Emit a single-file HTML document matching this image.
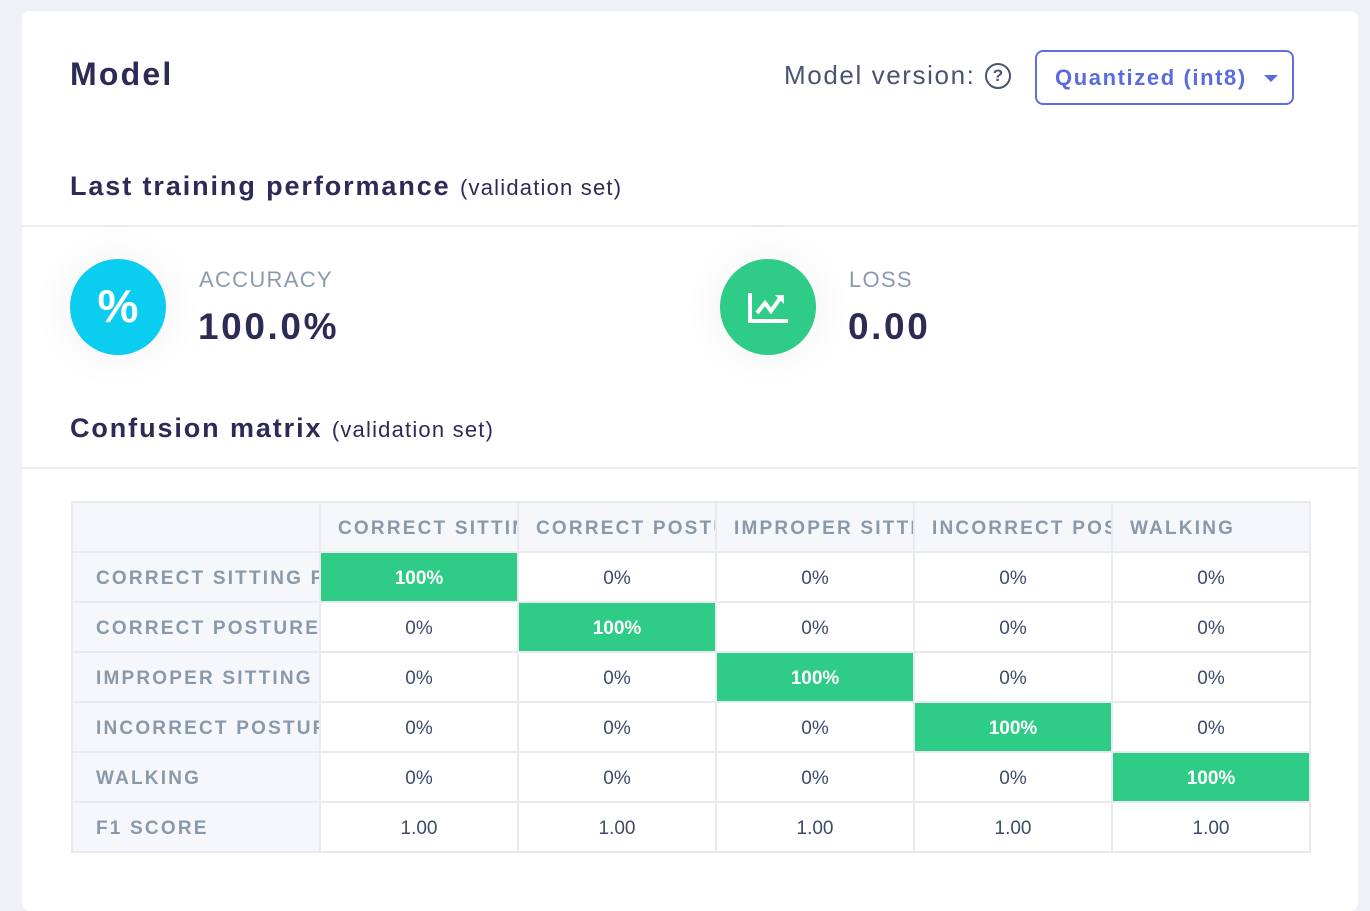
<!DOCTYPE html>
<html><head><style>
*{margin:0;padding:0;box-sizing:border-box}
body{width:1370px;height:884px;background:#f0f1f6;font-family:"Liberation Sans",sans-serif;position:relative;overflow:hidden}
.card{position:absolute;left:22px;top:11px;width:1336px;height:900px;background:#fff;border-radius:8px}
.abs{position:absolute}
h1{position:absolute;left:48px;top:45px;font-size:32px;font-weight:bold;color:#2c2b55;letter-spacing:2.2px}
.h2{position:absolute;left:48px;font-size:27px;font-weight:bold;color:#2c2b55;letter-spacing:1.9px}
.h2 span{font-size:22px;font-weight:normal;letter-spacing:1.2px}
.line{position:absolute;left:0;width:1336px;height:2px;background:#ebecf0}
.circle{position:absolute;width:96px;height:96px;border-radius:50%;box-shadow:0 0 30px 14px rgba(0,0,0,0.03)}
.lbl{position:absolute;font-size:22px;color:#8a9bb0;letter-spacing:1.3px}
.val{position:absolute;font-size:37px;font-weight:bold;color:#2c2b55;letter-spacing:2.6px}
table{position:absolute;left:49px;top:490px;border-collapse:collapse;table-layout:fixed}
td{border:2px solid #e8eaef;height:50px;text-align:center;font-size:19px;color:#3d4a6a;white-space:nowrap;overflow:hidden;width:198px;max-width:198px;padding-top:4px}
td.h{background:#f6f7fb;color:#8899ab;font-size:19px;font-weight:bold;letter-spacing:2.2px;text-align:left;padding-left:17px;text-overflow:clip}
td.r{width:248px;max-width:248px;padding-left:23px}
td.g{background:#2ecc87;color:#fff;font-weight:bold}
</style></head><body>
<div class="card">
<h1>Model</h1>
<div class="abs" style="left:762px;top:49px;font-size:26px;color:#4a5370;letter-spacing:1.6px">Model version:</div>
<div class="abs" style="left:963px;top:52px;width:26px;height:26px;border:2.5px solid #4a5370;border-radius:50%;font-size:17px;font-weight:bold;color:#4a5370;text-align:center;line-height:21px">?</div>
<div class="abs" style="left:1013px;top:39px;width:259px;height:55px;border:2px solid #5f6fe0;border-radius:8px;font-size:22px;font-weight:bold;color:#5a6bdf;padding:13px 0 0 18px;letter-spacing:1.6px">Quantized (int8)</div>
<div class="abs" style="left:1242px;top:64px;width:0;height:0;border-left:7px solid transparent;border-right:7px solid transparent;border-top:7px solid #5a6bdf"></div>
<div class="h2" style="top:160px">Last training performance <span>(validation set)</span></div>
<div class="line" style="top:214px"></div>
<div class="circle" style="left:48px;top:248px;background:#0bcdef;color:#fff;font-size:46px;font-weight:bold;text-align:center;line-height:94px">%</div>
<div class="lbl" style="left:177px;top:256px">ACCURACY</div>
<div class="val" style="left:176px;top:295px">100.0%</div>
<div class="circle" style="left:698px;top:248px;background:#2ecc87">
<svg width="96" height="96" viewBox="0 0 96 96"><path d="M30 34V62H68" stroke="#fff" stroke-width="4" fill="none"/><path d="M37 54L45 44L51 52L61 38" stroke="#fff" stroke-width="4" fill="none"/><path d="M55 36H64V45Z" fill="#fff"/></svg></div>
<div class="lbl" style="left:827px;top:256px">LOSS</div>
<div class="val" style="left:826px;top:295px">0.00</div>
<div class="h2" style="top:402px">Confusion matrix <span>(validation set)</span></div>
<div class="line" style="top:456px"></div>
<table>
<tr><td class="h r"></td><td class="h">CORRECT SITTING</td><td class="h">CORRECT POSTURE</td><td class="h">IMPROPER SITTING</td><td class="h">INCORRECT POSTURE</td><td class="h">WALKING</td></tr>
<tr><td class="h r">CORRECT SITTING POSTURE</td><td class="g">100%</td><td>0%</td><td>0%</td><td>0%</td><td>0%</td></tr>
<tr><td class="h r">CORRECT POSTURE</td><td>0%</td><td class="g">100%</td><td>0%</td><td>0%</td><td>0%</td></tr>
<tr><td class="h r">IMPROPER SITTING</td><td>0%</td><td>0%</td><td class="g">100%</td><td>0%</td><td>0%</td></tr>
<tr><td class="h r">INCORRECT POSTURE</td><td>0%</td><td>0%</td><td>0%</td><td class="g">100%</td><td>0%</td></tr>
<tr><td class="h r">WALKING</td><td>0%</td><td>0%</td><td>0%</td><td>0%</td><td class="g">100%</td></tr>
<tr><td class="h r">F1 SCORE</td><td>1.00</td><td>1.00</td><td>1.00</td><td>1.00</td><td>1.00</td></tr>
</table>
</div>
</body></html>
